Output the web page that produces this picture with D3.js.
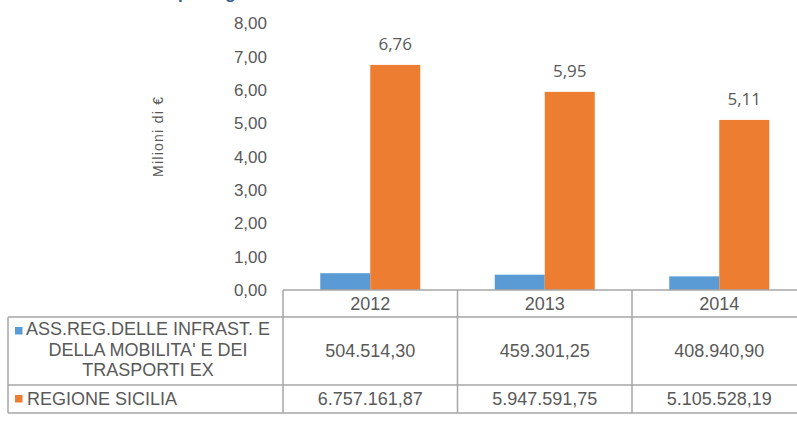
<!DOCTYPE html>
<html>
<head>
<meta charset="utf-8">
<script src="https://cdn.jsdelivr.net/npm/d3@7"></script>
<style>
  body { margin: 0; background: #fff; }
  svg { display: block; font-family: "Liberation Sans", Arial, sans-serif; }
</style>
</head>
<body>
<svg id="chart" width="797" height="425"></svg>
<script>
// data
const years = ["2012", "2013", "2014"];
const seriesNames = ["ASS.REG.DELLE INFRAST. E DELLA MOBILITA' E DEI TRASPORTI EX", "REGIONE SICILIA"];
const assReg = [504514.30, 459301.25, 408940.90];
const regioneSicilia = [6757161.87, 5947591.75, 5105528.19];
const yTicks = [0, 1, 2, 3, 4, 5, 6, 7, 8];
const legendLines = ["ASS.REG.DELLE INFRAST. E", "DELLA MOBILITA' E DEI", "TRASPORTI EX"];

const colors = ["#5B9BD5", "#ED7D31"];
const textColor = "#595959";
const lineColor = "#A6A6A6";

const it = d3.formatLocale({ decimal: ",", thousands: ".", grouping: [3], currency: ["", " €"] });
const fmt2 = it.format(",.2f");

const svg = d3.select("#chart");

const left = 283, colW = 174.5;
const x0 = d3.scaleBand().domain(years).range([left, left + colW * 3]).paddingInner(0.427).paddingOuter(0.2135);
const x1 = d3.scaleBand().domain([0, 1]).range([0, x0.bandwidth()]);
const y = d3.scaleLinear().domain([0, 8]).range([290, 23.5]);

// cut-off title at the top
const title = svg.append("text")
    .attr("y", -1)
    .attr("fill", "#2E5E8E")
    .attr("font-weight", "bold")
    .attr("font-size", 17)
    .text("Trasferimenti per regione");
const off = title.node().getSubStringLength(0, "Trasferimenti ".length);
title.attr("x", 178 - off);

// y axis
const yAxis = svg.append("g")
    .attr("transform", `translate(${left},0)`)
    .call(d3.axisLeft(y).tickValues(yTicks).tickSize(0).tickPadding(16).tickFormat(fmt2));
yAxis.select(".domain").remove();
yAxis.selectAll("text").attr("font-size", 17).attr("fill", textColor).attr("font-family", "Liberation Sans, Arial, sans-serif");

svg.append("text")
    .attr("transform", "translate(163,137) rotate(-90)")
    .attr("text-anchor", "middle")
    .attr("font-size", 14)
    .attr("textLength", 80)
    .attr("fill", textColor)
    .text("Milioni di €");

// bars
const series = [assReg, regioneSicilia];
series.forEach((vals, s) => {
  svg.append("g").selectAll("rect")
    .data(vals)
    .join("rect")
    .attr("x", (d, i) => x0(years[i]) + x1(s))
    .attr("y", d => y(d / 1e6))
    .attr("width", x1.bandwidth())
    .attr("height", d => y(0) - y(d / 1e6))
    .attr("fill", colors[s]);
});

// data labels on orange bars
svg.append("g").selectAll("text")
  .data(regioneSicilia)
  .join("text")
  .attr("x", (d, i) => x0(years[i]) + x1(1) + x1.bandwidth() / 2)
  .attr("y", d => y(d / 1e6) - 15)
  .attr("text-anchor", "middle")
  .attr("font-family", "'Open Sans', sans-serif")
  .attr("font-size", 17)
  .attr("fill", textColor)
  .text(d => it.format(".2f")(d / 1e6));

// data table
const rowY = [290, 317, 385, 413];
const colX = [8, left, left + colW, left + colW * 2, left + colW * 3];
const grid = svg.append("g").attr("stroke", lineColor).attr("stroke-width", 1.5);
grid.append("line").attr("x1", left).attr("x2", 797).attr("y1", rowY[0]).attr("y2", rowY[0]);
rowY.slice(1).forEach(ry => grid.append("line").attr("x1", colX[0]).attr("x2", 797).attr("y1", ry).attr("y2", ry));
colX.forEach((cx, i) => grid.append("line").attr("x1", cx).attr("x2", cx)
    .attr("y1", i === 0 ? rowY[1] : rowY[0]).attr("y2", rowY[3]));

const tbl = svg.append("g").attr("font-size", 18).attr("fill", textColor).attr("text-anchor", "middle");
tbl.selectAll(".yr").data(years).join("text")
  .attr("x", d => x0(d) + x0.bandwidth() / 2)
  .attr("y", 304).attr("dy", "0.35em").text(d => d);
tbl.selectAll(".v1").data(assReg).join("text")
  .attr("x", (d, i) => x0(years[i]) + x0.bandwidth() / 2)
  .attr("y", 351).attr("dy", "0.35em").text(d => fmt2(d));
tbl.selectAll(".v2").data(regioneSicilia).join("text")
  .attr("x", (d, i) => x0(years[i]) + x0.bandwidth() / 2)
  .attr("y", 399).attr("dy", "0.35em").text(d => fmt2(d));

// legend cells
svg.append("rect").attr("x", 15).attr("y", 327).attr("width", 7.5).attr("height", 7.5).attr("fill", colors[0]);
svg.append("rect").attr("x", 15).attr("y", 395).attr("width", 7.5).attr("height", 7.5).attr("fill", colors[1]);
tbl.selectAll(".lg").data(legendLines).join("text")
  .attr("x", 148)
  .attr("y", (d, i) => 329 + i * 20.5).attr("dy", "0.35em").text(d => d);
svg.append("text").attr("x", 27).attr("y", 399).attr("dy", "0.35em")
  .attr("font-size", 18).attr("fill", textColor).text(seriesNames[1]);
</script>
</body>
</html>
